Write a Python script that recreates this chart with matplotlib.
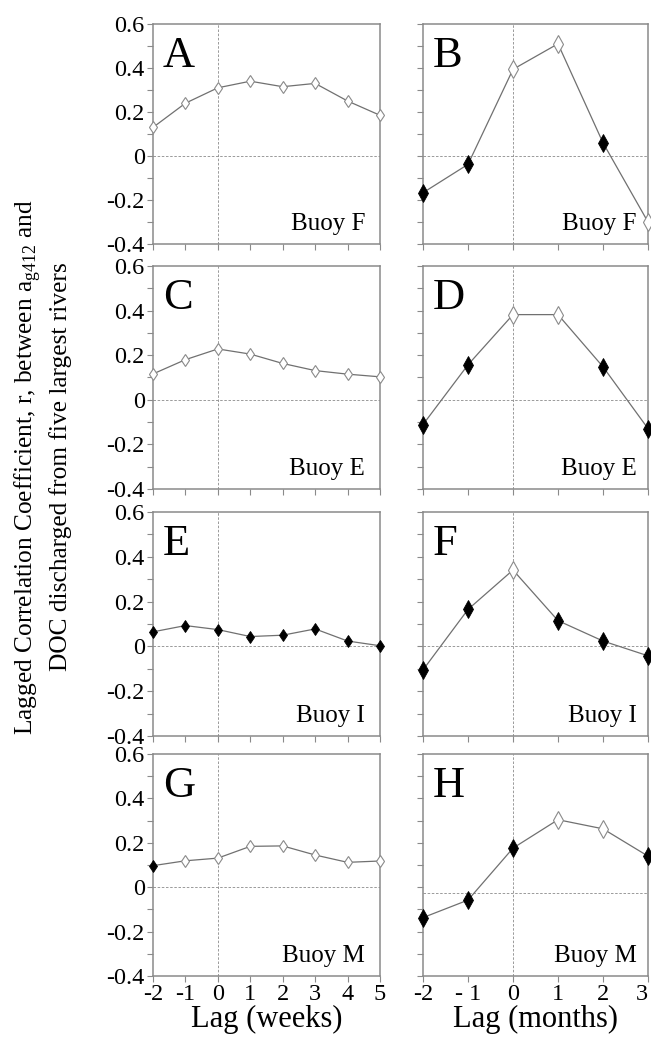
import matplotlib
matplotlib.use("Agg")
import matplotlib.pyplot as plt
from matplotlib.ticker import MultipleLocator, FuncFormatter

plt.rcParams["font.family"] = ["Liberation Serif", "DejaVu Serif"]
plt.rcParams["mathtext.fontset"] = "custom"
plt.rcParams["mathtext.rm"] = "Liberation Serif"
plt.rcParams["axes.unicode_minus"] = False

# lags
weeks = [-2, -1, 0, 1, 2, 3, 4, 5]
months = [-2, -1, 0, 1, 2, 3]
month_labels = ["-2", "- 1", "0", "1", "2", "3"]

# correlation coefficients (r)
r_A = [0.13, 0.24, 0.31, 0.34, 0.315, 0.33, 0.25, 0.185]
r_B = [-0.167, -0.038, 0.394, 0.51, 0.06, -0.30]
r_C = [0.116, 0.18, 0.228, 0.205, 0.163, 0.131, 0.115, 0.103]
r_D = [-0.111, 0.157, 0.382, 0.382, 0.148, -0.129]
r_E = [0.065, 0.093, 0.075, 0.044, 0.05, 0.078, 0.024, 0.003]
r_F = [-0.105, 0.165, 0.341, 0.115, 0.024, -0.042]
r_G = [0.097, 0.119, 0.131, 0.184, 0.186, 0.145, 0.112, 0.118]
r_H = [-0.137, -0.058, 0.176, 0.304, 0.263, 0.14]

# filled marker = True, open marker = False
fill_A = [False] * 8
fill_B = [True, True, False, False, True, False]
fill_C = [False] * 8
fill_D = [True, True, False, False, True, True]
fill_E = [True] * 8
fill_F = [True, True, False, True, True, True]
fill_G = [True, False, False, False, False, False, False, False]
fill_H = [True, True, True, False, False, True]

letters = ["A", "B", "C", "D", "E", "F", "G", "H"]
buoys = ["Buoy F", "Buoy F", "Buoy E", "Buoy E", "Buoy I", "Buoy I", "Buoy M", "Buoy M"]
ref_lines = [0, 0, 0, 0, 0, 0, 0, -0.025]

series = [r_A, r_B, r_C, r_D, r_E, r_F, r_G, r_H]
fills = [fill_A, fill_B, fill_C, fill_D, fill_E, fill_F, fill_G, fill_H]

W, H = 651, 1039
fig = plt.figure(figsize=(W / 100, H / 100), dpi=100)

# panel boxes in pixels: (left, right) per column, (top, bottom) per row
cols = [(153, 380), (423, 648)]
rows = [(24, 244), (266, 489), (512, 736), (754, 976)]

grey = "#8a8a8a"
line_col = "#707070"

for i in range(8):
    row, col = divmod(i, 2)
    l, r = cols[col]
    t, b = rows[row]
    ax = fig.add_axes([l / W, 1 - b / H, (r - l) / W, (b - t) / H])
    x = weeks if col == 0 else months
    y = series[i]
    ms = 6 if col == 0 else 9

    ax.axvline(0, color=grey, lw=0.6, ls=(0, (3, 2)), zorder=1)
    ax.axhline(ref_lines[i], color=grey, lw=0.6, ls=(0, (3, 2)), zorder=1)
    ax.plot(x, y, color=line_col, lw=0.9, zorder=2, clip_on=False)
    for xi, yi, f in zip(x, y, fills[i]):
        if f:
            ax.plot(xi, yi, marker="d", ms=ms, mfc="black", mec="black",
                    mew=0.6, zorder=3, clip_on=False)
        else:
            ax.plot(xi, yi, marker="d", ms=ms, mfc="white", mec=grey,
                    mew=0.8, zorder=3, clip_on=False)

    ax.set_xlim(x[0], x[-1])
    ax.set_ylim(-0.4, 0.6)
    ax.set_xticks(x)
    for s in ax.spines.values():
        s.set_color(grey)
        s.set_linewidth(1.1)
    ax.tick_params(direction="out", length=4, width=0.8, color=grey,
                   labelsize=17.5, pad=2)
    ax.tick_params(which="minor", direction="out", length=4, width=0.8, color=grey)

    if col == 0:
        ax.yaxis.set_major_locator(MultipleLocator(0.2))
        ax.yaxis.set_minor_locator(MultipleLocator(0.1))
        ax.yaxis.set_major_formatter(FuncFormatter(
            lambda v, p: "0" if abs(v) < 1e-9 else f"{v:.1f}"))
    else:
        ax.yaxis.set_major_locator(MultipleLocator(0.1))
        ax.set_yticklabels([])

    if row == 3:
        if col == 1:
            ax.set_xticklabels(month_labels)
            ax.get_xticklabels()[-1].set_horizontalalignment("right")
        ax.set_xlabel("Lag (weeks)" if col == 0 else "Lag (months)",
                      fontsize=22, labelpad=0)
    else:
        ax.set_xticklabels([])

    ax.text(0.044, 0.945, letters[i], transform=ax.transAxes, fontsize=32,
            ha="left", va="top")
    ax.text(0.935 if col == 0 else 0.95, 0.064, buoys[i], transform=ax.transAxes,
            fontsize=18, ha="right", va="baseline")

fig.text(42 / W, 1 - 467 / H,
         "Lagged Correlation Coefficient, r, between a$_{\\rm g412}$ and\n"
         "DOC discharged from five largest rivers",
         rotation=90, ha="center", va="center", fontsize=18.3,
         multialignment="center", linespacing=1.35)

fig.savefig("out.png", dpi=100)
